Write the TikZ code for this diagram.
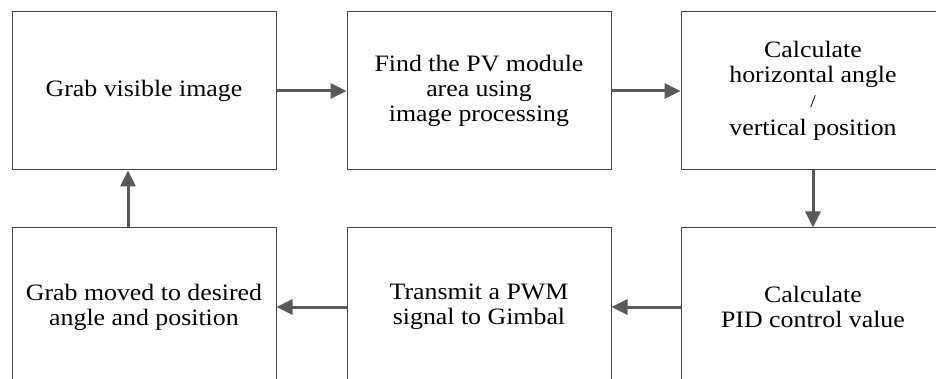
\documentclass[tikz,border=0pt]{standalone}
\usepackage{fontspec}
\setmainfont{Liberation Serif}[FakeStretch=1.1]
\usetikzlibrary{arrows.meta}
\definecolor{boxline}{HTML}{454545}
\definecolor{arrowgray}{HTML}{5A5A5A}
\tikzset{
  stepbox/.style={draw=boxline, line width=1pt, minimum width=264pt, minimum height=158pt,
    inner sep=0pt, align=center, font=\fontsize{23.5}{25}\selectfont, text=black},
  flow/.style={draw=arrowgray, line width=3pt,
    -{Triangle[length=16pt,width=15pt,fill=arrowgray]}}
}
\begin{document}
\begin{tikzpicture}[x=1pt,y=-1pt]
\useasboundingbox (0,0) rectangle (936,379);
\clip (0,0) rectangle (936,379);
\fill[white] (0,0) rectangle (936,379);
\node[stepbox] (a1) at (144,91) {Grab visible image};
\node[stepbox] (a2) at (479,91) {Find the PV module\\area using\\image processing};
\node[stepbox] (a3) at (813,91) {Calculate\\horizontal angle\\{\fontsize{18}{18}\selectfont /}\\[3pt]vertical position};
\node[stepbox] (b3) at (813,307) {Calculate\\PID control value};
\node[stepbox] (b2) at (479,307) {Transmit a PWM\\signal to Gimbal};
\node[stepbox] (b1) at (144,307) {Grab moved to desired\\angle and position};
\draw[flow] (a1.east) -- (a2.west);
\draw[flow] (a2.east) -- (a3.west);
\draw[flow] (a3.south) -- (b3.north);
\draw[flow] (b3.west) -- (b2.east);
\draw[flow] (b2.west) -- (b1.east);
\draw[flow] ([xshift=-16pt]b1.north) -- ([xshift=-16pt]a1.south);
\end{tikzpicture}
\end{document}
